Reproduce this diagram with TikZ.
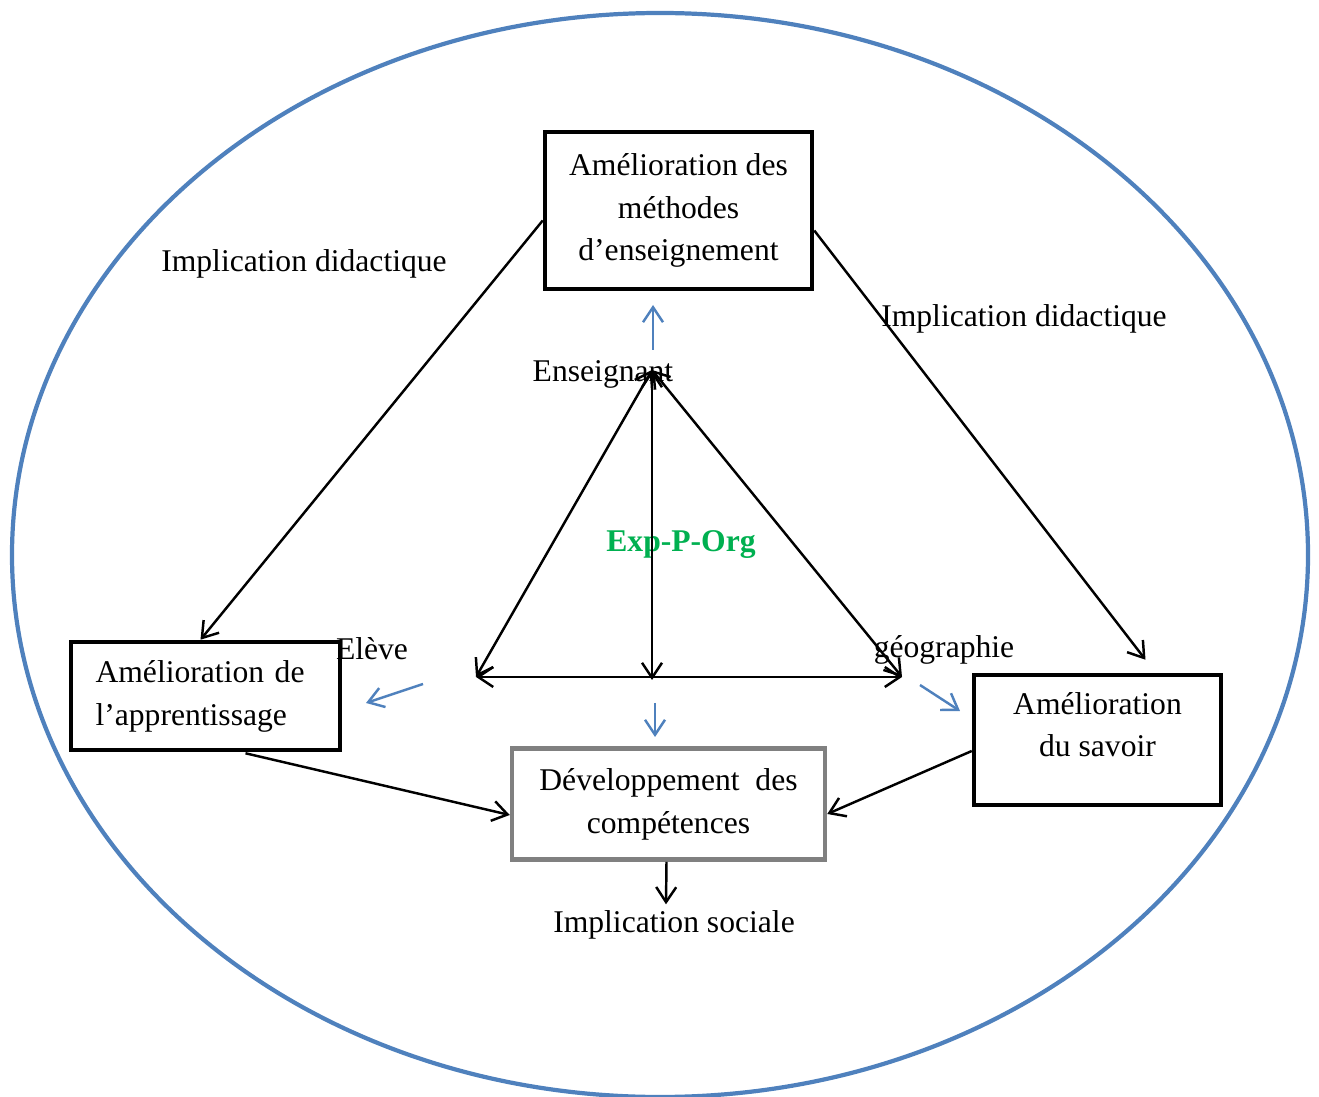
\documentclass[tikz,border=0pt]{standalone}
\usepackage{fontspec}
\setmainfont{Liberation Serif}
\usetikzlibrary{arrows.meta, positioning, calc}
\definecolor{ovalblue}{HTML}{4F81BD}
\definecolor{expgreen}{HTML}{00B050}
\definecolor{boxgray}{HTML}{808080}

\begin{document}
\begin{tikzpicture}[x=0.02cm, y=-0.02cm,
    mainbox/.style={draw, line width=2.6pt, font=\fontsize{18}{24.4}\selectfont, align=center, inner sep=0pt},
    greybox/.style={mainbox, draw=boxgray},
    label/.style={font=\fontsize{18}{24.4}\selectfont, inner sep=0pt},
    link/.style={-{Straight Barb[length=3mm, width=4mm]}, line width=1.4pt},
    bilink/.style={{Straight Barb[length=3mm, width=4mm]}-{Straight Barb[length=3mm, width=4mm]}, line width=1.4pt},
    bluelink/.style={link, draw=ovalblue},
]
\useasboundingbox (0,0) rectangle (1319,1097);

% Outer oval
\draw[ovalblue, line width=2.4pt] (660,555) ellipse [x radius=648, y radius=542];

% Boxes
\node[mainbox, minimum width=5.34cm, minimum height=3.14cm] (methodes) at (678.5,210.5) {Amélioration des\\méthodes\\d’enseignement};
\node[mainbox, minimum width=5.38cm, minimum height=2.16cm, text width=4.4cm, align=left] (apprentissage) at (205.5,696) {Amélioration de\\l’apprentissage};
\node[mainbox, minimum width=4.94cm, minimum height=2.6cm] (savoir) at (1097.5,740) {Amélioration\\du savoir\rule[-0.62cm]{0pt}{0pt}};
\node[greybox, minimum width=6.26cm, minimum height=2.22cm] (competences) at (668.5,804) {Développement\ \ des\\compétences};

% Labels
\node[label] (impl_left) at (304,264) {Implication didactique};
\node[label] (impl_right) at (1024,319) {Implication didactique};
\node[label] (enseignant) at (603,374) {Enseignant};
\node[label, font=\fontsize{18}{24.4}\selectfont\bfseries, text=expgreen] (exp_org) at (681,545) {Exp-P-Org};
\node[label] (eleve) at (372,649) {Elève};
\node[label] (geographie) at (944,650) {géographie};
\node[label] (impl_sociale) at (674,925) {Implication sociale};

% Triangle corners
\coordinate (apex) at (652,370);
\coordinate (corner_left) at (476,677);
\coordinate (corner_right) at (902,677);
\coordinate (base_mid) at (652,680);

\draw[bilink] (corner_left) -- (apex);
\draw[bilink] (apex) -- (corner_right);
\draw[bilink] (apex) -- (base_mid);
\draw[bilink] (corner_left) -- (corner_right);

% Didactic links
\draw[link] ($(methodes.west)+(0,10)$) -- ($(apprentissage.north)+(-5,0)$);
\draw[link] ($(methodes.east)+(0,20)$) -- ($(savoir.north)+(48,-13)$);
\draw[link] ($(apprentissage.south)+(40,1)$) -- ($(competences.west)+(0,11)$);
\draw[link] ($(savoir.west)+(0,11)$) -- ($(competences.east)+(0,10)$);
\draw[link] ($(competences.south)+(-2,0)$) -- ($(impl_sociale.north)+(-8,-6)$);

% Blue pointers
\coordinate (up_from) at (653,350);
\coordinate (up_to) at (653,305);
\coordinate (left_from) at (423,684);
\coordinate (left_to) at (366,703);
\coordinate (down_from) at (655,703);
\coordinate (down_to) at (655,737);
\coordinate (right_from) at (920,685);
\coordinate (right_to) at (960,711);

\draw[bluelink] (up_from) -- (up_to);
\draw[bluelink] (left_from) -- (left_to);
\draw[bluelink] (down_from) -- (down_to);
\draw[bluelink] (right_from) -- (right_to);

\end{tikzpicture}
\end{document}
